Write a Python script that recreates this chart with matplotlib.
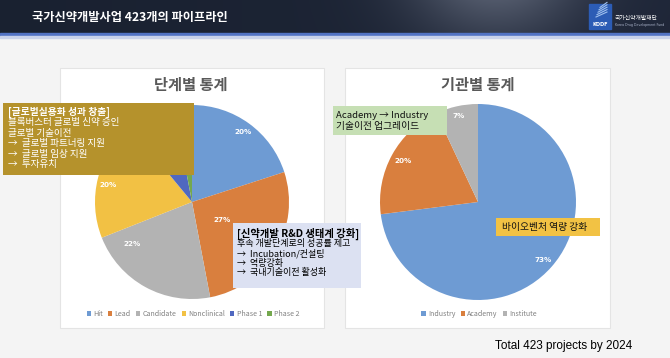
import matplotlib
matplotlib.use('Agg')
import matplotlib.pyplot as plt
import numpy as np
from matplotlib.patches import Rectangle

plt.rcParams['font.family'] = ['Noto Sans CJK KR', 'DejaVu Sans']

# ---------------- data ----------------
title_text = '국가신약개발사업 423개의 파이프라인'
stage_title = '단계별 통계'
stage_labels = ['Hit', 'Lead', 'Candidate', 'Nonclinical', 'Phase 1', 'Phase 2']
stage_values = [20, 27, 22, 20, 8, 3]
org_title = '기관별 통계'
org_labels = ['Industry', 'Academy', 'Institute']
org_values = [73, 20, 7]
footer_text = 'Total 423 projects by 2024'
box1_lines = ['[글로벌실용화 성과 창출]', '블록버스터 글로벌 신약 승인', '글로벌 기술이전',
              '→  글로벌 파트너링 지원', '→  글로벌 임상 지원', '→  투자유치']
box2_lines = ['[신약개발 R&D 생태계 강화]', '후속 개발단계로의 성공률 제고',
              '→  Incubation/컨설팅', '→  역량강화', '→  국내기술이전 활성화']
box3_lines = ['Academy → Industry', '기술이전 업그레이드']
box4_lines = ['바이오벤처 역량 강화']

# ---------------- style ----------------
stage_colors = ['#6E9BD3', '#D97F3E', '#B3B3B3', '#F2C144', '#5068C0', '#74A84E']
org_colors = ['#6E9BD3', '#D97F3E', '#B3B3B3']
stage_lab_dist = [0.89, 0.36, 0.75, 0.88, 0.89, 0.90]
stage_lab_shift = [0, 0, -26, 3, 2, 0]
org_lab_dist = [0.89, 0.87, 0.90]

W, H = 670, 358
fig = plt.figure(figsize=(6.7, 3.58), dpi=100)


def ax_px(x0, y0, x1, y1):
    return fig.add_axes([x0 / W, 1 - y1 / H, (x1 - x0) / W, (y1 - y0) / H])


bg = ax_px(0, 0, W, H)
bg.set_xlim(0, W)
bg.set_ylim(H, 0)
bg.axis('off')
bg.add_patch(Rectangle((0, 0), W, H, color='#f4f4f4', zorder=0))

# header gradient
xs = np.linspace(0, 1, 670)
ys = np.linspace(0, 1, 34)[:, None]
blob = np.exp(-((xs - 0.74) / 0.13) ** 2)[None, :] * (1 - 0.5 * ys)
r = 0.10 + 0.02 * xs[None, :] + 0.20 * blob
g = 0.13 + 0.02 * xs[None, :] + 0.20 * blob
b = 0.19 + 0.03 * xs[None, :] + 0.20 * blob
img = np.dstack([r + 0 * ys, g + 0 * ys, b + 0 * ys])
bg.imshow(np.clip(img, 0, 1), extent=(0, W, 34, 0), aspect='auto', zorder=1)
bg.add_patch(Rectangle((0, 33), W, 3, color='#5273C4', zorder=2))
bg.add_patch(Rectangle((0, 36), W, 1.5, color='#c9d2ea', zorder=2))
bg.set_xlim(0, W)
bg.set_ylim(H, 0)

bg.text(32, 17, title_text, color='white', fontsize=8.8, fontweight='bold',
        ha='left', va='center', zorder=3)

# logo
bg.add_patch(Rectangle((589, 4), 22, 25, color='#2C5CB5', zorder=3))
for i in range(5):
    bg.plot([596 + i * 1.0, 607], [17 - i * 2.4, 12 - i * 2.4], color='#9fc0ee', lw=0.8, zorder=4)
bg.text(600, 24.5, 'KDDF', color='white', fontsize=3.6, fontweight='bold',
        ha='center', va='center', family='DejaVu Sans', zorder=4)
bg.text(615, 18, '국가신약개발재단', color='white', fontsize=4.2, ha='left', va='center', zorder=4)
bg.text(615, 25, 'Korea Drug Development Fund', color='#a9b2c8', fontsize=2.3,
        ha='left', va='center', family='DejaVu Sans', zorder=4)

# panels
bg.add_patch(Rectangle((60, 68), 264, 260, fc='white', ec='#e4e4e4', lw=0.8, zorder=2))
bg.add_patch(Rectangle((345, 68), 265, 260, fc='white', ec='#e4e4e4', lw=0.8, zorder=2))
bg.text(191, 85, stage_title, color='#595959', fontsize=11, fontweight='bold',
        ha='center', va='center', zorder=3)
bg.text(478, 85, org_title, color='#595959', fontsize=11, fontweight='bold',
        ha='center', va='center', zorder=3)

bg.text(632, 346, footer_text, color='black', fontsize=8.5, family='Liberation Sans',
        ha='right', va='center', zorder=3)


def draw_pie(ax, values, colors, dists, shifts):
    wedges, texts, autotexts = ax.pie(values, colors=colors, startangle=90,
                                      counterclock=False, radius=1,
                                      autopct='%.0f%%', pctdistance=0.85,
                                      wedgeprops=dict(linewidth=0),
                                      textprops=dict(color='white', fontsize=5.2,
                                                     fontweight='bold',
                                                     family='DejaVu Sans'))
    for w, t, d, s in zip(wedges, autotexts, dists, shifts):
        ang = np.deg2rad((w.theta1 + w.theta2) / 2 + s)
        t.set_position((d * np.cos(ang), d * np.sin(ang)))
        t.set_ha('center')
        t.set_va('center')
    ax.set_xlim(-1, 1)
    ax.set_ylim(-1, 1)
    ax.set_aspect('equal')
    ax.axis('off')
    return wedges


axL = ax_px(95, 105, 289, 299)
wL = draw_pie(axL, stage_values, stage_colors, stage_lab_dist, stage_lab_shift)
axR = ax_px(380, 104, 576, 300)
wR = draw_pie(axR, org_values, org_colors, org_lab_dist, [0, 0, 0])

leg_kw = dict(loc='center', frameon=False, fontsize=5.1, handlelength=0.6,
              handleheight=0.6, handletextpad=0.3, columnspacing=0.75,
              labelcolor='#808080')
fig.legend(wL, stage_labels, bbox_to_anchor=(193 / W, 1 - 314 / H), ncol=6, **leg_kw)
fig.legend(wR, org_labels, bbox_to_anchor=(479 / W, 1 - 314 / H), ncol=3, **leg_kw)

# overlay for annotation boxes
ov = fig.add_axes([0, 0, 1, 1], zorder=10)
ov.patch.set_alpha(0)
ov.set_xlim(0, W)
ov.set_ylim(H, 0)
ov.axis('off')


def textbox(x0, y0, x1, y1, fc, lines, color, tx, ty, dy, fs, fs0, first_bold):
    ov.add_patch(Rectangle((x0, y0), x1 - x0, y1 - y0, fc=fc, ec='none'))
    for i, ln in enumerate(lines):
        ov.text(tx, ty + i * dy, ln, color=color, fontsize=fs0 if i == 0 else fs,
                fontweight='bold' if (first_bold and i == 0) else 'normal',
                ha='left', va='center')


textbox(3, 103, 194, 175, '#B5922C', box1_lines, 'white', 8, 112, 10.6, 6.9, 7.0, True)
textbox(233, 223, 361, 288, '#DCE1F2', box2_lines, 'black', 237, 234, 9.7, 6.5, 7.4, True)
textbox(333, 106, 447, 135, '#C6DFB4', box3_lines, '#111111', 336, 115, 11, 7.0, 6.9, False)
textbox(496, 218, 600, 236, '#F2C244', box4_lines, '#111111', 502, 227, 10, 7.0, 7.0, False)

fig.savefig('out.png', dpi=100)
